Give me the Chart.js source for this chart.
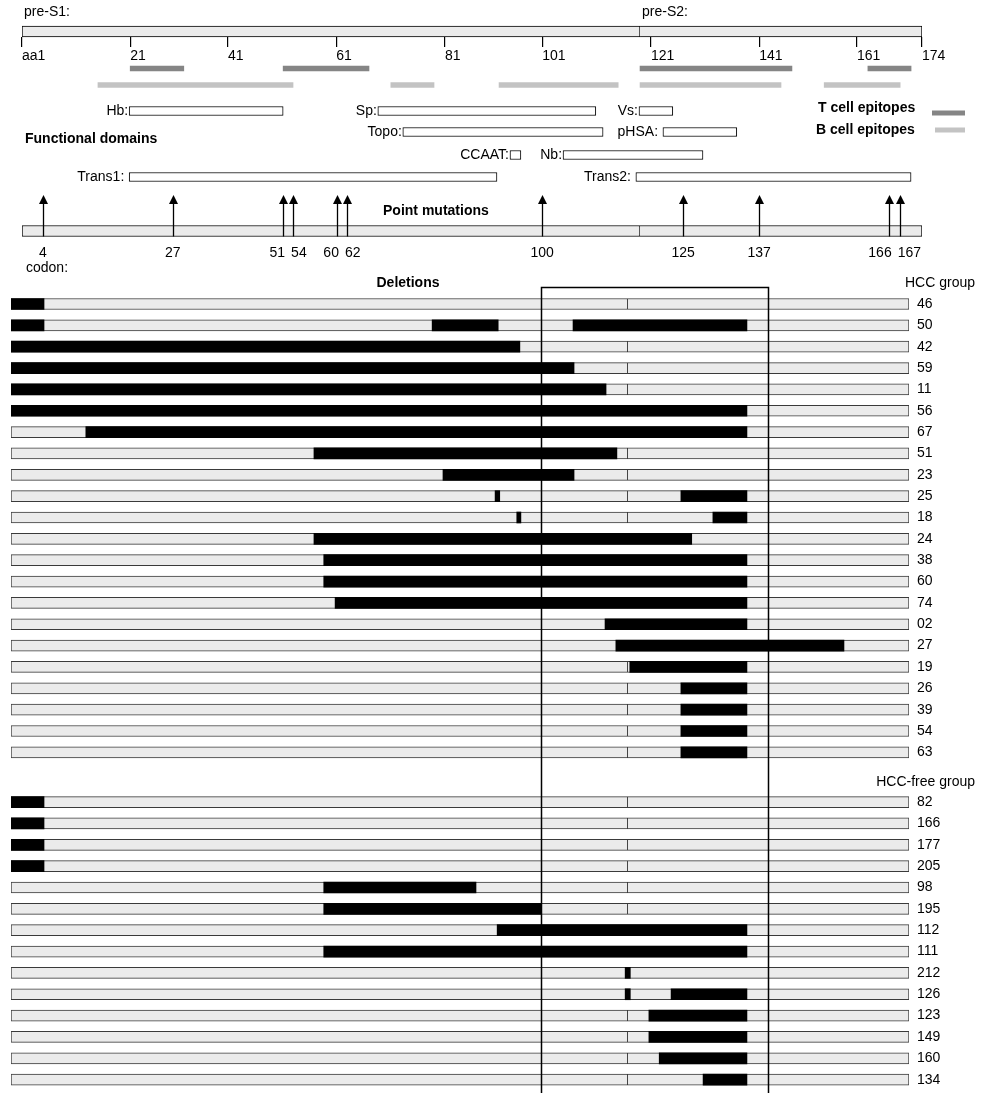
<!DOCTYPE html>
<html>
<head>
<meta charset="utf-8">
<script src="https://cdn.jsdelivr.net/npm/chart.js@4.4.1/dist/chart.umd.min.js"></script>
<style>
  body { margin: 0; background: #fff; }
  canvas { display: block; }
</style>
</head>
<body>
<canvas id="mapChart" width="983" height="276"></canvas>
<canvas id="delChart" width="983" height="817"></canvas>
<script>
/* ===== values (codon positions as drawn) ===== */

// pre-S1 / pre-S2 ruler
const rulerLabels = ['aa1', '21', '41', '61', '81', '101', '121', '141', '161', '174'];
const rulerAt = [1, 21.8, 40.6, 61.4, 82.3, 101, 121.9, 142.7, 161.5, 174];
const preS2Start = 119.8;

// epitopes
const tCellEpitopes = [[21.8, 32.1], [51.2, 67.7], [119.8, 149], [163.6, 171.9]];
const bCellEpitopes = [[15.6, 53.1], [71.9, 80.2], [92.7, 115.6], [119.8, 146.9], [155.2, 169.8]];

// functional domains
const domainNames = ['Hb:', 'Sp:', 'Vs:', 'Topo:', 'pHSA: ', 'CCAAT:', 'Nb:', 'Trans1: ', 'Trans2: '];
const domainRanges = [[21.6, 51.2], [69.4, 111.3], [119.6, 126.1], [74.2, 112.7], [124.2, 138.4],
                      [94.8, 96.9], [105, 131.9], [21.6, 92.3], [119, 171.9]];
const domainRow = [0, 0, 0, 1, 1, 2, 2, 3, 3];

// point mutations
const mutationCodons = ['4', '27', '51', '54', '60', '62', '100', '125', '137', '166', '167'];
const mutationAt = [5, 30, 51.2, 53.1, 61.5, 63.5, 101, 128.1, 142.7, 167.7, 169.8];

// deletions (aa 0..174 along each isolate)
const hccIds = ['46', '50', '42', '59', '11', '56', '67', '51', '23', '25', '18',
                '24', '38', '60', '74', '02', '27', '19', '26', '39', '54', '63'];
const hccDeletions = [
  [[0, 6.4]],
  [[0, 6.4], [81.6, 94.4], [108.9, 142.6]],
  [[0, 98.6]],
  [[0, 109.1]],
  [[0, 115.3]],
  [[0, 142.6]],
  [[14.5, 142.6]],
  [[58.7, 117.4]],
  [[83.7, 109.1]],
  [[93.8, 94.7], [129.8, 142.6]],
  [[98.0, 98.8], [136.0, 142.6]],
  [[58.7, 131.9]],
  [[60.6, 142.6]],
  [[60.6, 142.6]],
  [[62.8, 142.6]],
  [[115.1, 142.6]],
  [[117.2, 161.4]],
  [[119.9, 142.6]],
  [[129.8, 142.6]],
  [[129.8, 142.6]],
  [[129.8, 142.6]],
  [[129.8, 142.6]]
];
const freeIds = ['82', '166', '177', '205', '98', '195', '112', '111', '212', '126', '123', '149', '160', '134'];
const freeDeletions = [
  [[0, 6.4]],
  [[0, 6.4]],
  [[0, 6.4]],
  [[0, 6.4]],
  [[60.6, 90.1]],
  [[60.6, 102.7]],
  [[94.2, 142.6]],
  [[60.6, 142.6]],
  [[119.0, 120.0]],
  [[119.0, 120.0], [127.9, 142.6]],
  [[123.6, 142.6]],
  [[123.6, 142.6]],
  [[125.6, 142.6]],
  [[134.1, 142.6]]
];
const deletionPreS2 = 119.5;
const deletionBox = [102.7, 146.6];

/* ===== layout ===== */
const FONT = 'Arial, "Liberation Sans", sans-serif';
const T_COLOR = '#858585';
const B_COLOR = '#c3c3c3';
const BAR_FILL = '#ebebeb';

// map lanes (y scale runs 0..276 top to bottom)
const lane = {
  regionLabel: 12, ruler: 31.5, rulerAxis: 37,
  tCell: 68.5, bCell: 85,
  domains: [111, 132, 155, 177], domainTitle: 139,
  arrowTip: 195, mutTitle: 211, mutations: 231, mutLabels: 253, codon: 268
};

Chart.defaults.font.family = FONT;
Chart.defaults.font.size = 14;
Chart.defaults.color = '#000';

function text(ctx, s, x, y, align, bold) {
  ctx.font = (bold ? 'bold ' : '') + '14px ' + FONT;
  ctx.textAlign = align || 'left';
  ctx.textBaseline = 'middle';
  ctx.fillStyle = '#000';
  ctx.fillText(s, x, y);
}

const barBase = { grouped: false, borderSkipped: false, type: 'bar' };
const splitBorder = c => c.dataIndex === 1 ? { top: 1, right: 1, bottom: 1, left: 0 } : 1;

/* ===== top map ===== */
const mapPlugin = {
  id: 'mapDecor',
  afterDatasetsDraw(chart) {
    const { ctx, scales: { x, y } } = chart;
    ctx.save();
    text(ctx, 'pre-S1:', x.getPixelForValue(1) + 2, y.getPixelForValue(lane.regionLabel));
    text(ctx, 'pre-S2:', x.getPixelForValue(preS2Start) + 2, y.getPixelForValue(lane.regionLabel));

    domainNames.forEach((n, i) => {
      text(ctx, n, x.getPixelForValue(domainRanges[i][0]) - 1,
           y.getPixelForValue(lane.domains[domainRow[i]]) + 0.5, 'right');
    });
    text(ctx, 'Functional domains', 25, y.getPixelForValue(lane.domainTitle), 'left', true);

    // legend
    text(ctx, 'T cell epitopes', 818, 108, 'left', true);
    ctx.fillStyle = T_COLOR; ctx.fillRect(932, 110.5, 33, 5);
    text(ctx, 'B cell epitopes', 816, 130, 'left', true);
    ctx.fillStyle = B_COLOR; ctx.fillRect(935, 127.5, 30, 5);

    // arrows
    const base = y.getPixelForValue(lane.mutations) + 5.5;
    const tip = y.getPixelForValue(lane.arrowTip);
    ctx.strokeStyle = '#000'; ctx.fillStyle = '#000'; ctx.lineWidth = 1.3;
    mutationAt.forEach(v => {
      const px = Math.round(x.getPixelForValue(v)) + 0.5;
      ctx.beginPath(); ctx.moveTo(px, base); ctx.lineTo(px, tip + 8); ctx.stroke();
      ctx.beginPath(); ctx.moveTo(px, tip); ctx.lineTo(px - 4.5, tip + 9); ctx.lineTo(px + 4.5, tip + 9);
      ctx.closePath(); ctx.fill();
    });
    text(ctx, 'Point mutations', 383, y.getPixelForValue(lane.mutTitle), 'left', true);

    // codon labels, nudged apart where they would collide
    ctx.font = '14px ' + FONT;
    const items = mutationAt.map((v, i) => ({ c: x.getPixelForValue(v), w: ctx.measureText(mutationCodons[i]).width, s: mutationCodons[i] }));
    for (let i = 1; i < items.length; i++) {
      const a = items[i - 1], b = items[i];
      const overlap = (a.c + a.w / 2 + 6) - (b.c - b.w / 2);
      if (overlap > 0) { a.c -= overlap / 2; b.c += overlap / 2; }
    }
    items.forEach(it => text(ctx, it.s, it.c, y.getPixelForValue(lane.mutLabels), 'center'));
    text(ctx, 'codon:', 26, y.getPixelForValue(lane.codon));
    ctx.restore();
  }
};

new Chart(document.getElementById('mapChart'), {
  type: 'bar',
  data: {
    datasets: [
      { ...barBase, label: 'pre-S', order: 1,
        data: [{ x: [1, preS2Start], y: lane.ruler }, { x: [preS2Start, 174], y: lane.ruler }],
        backgroundColor: BAR_FILL, borderColor: '#000', borderWidth: splitBorder, barThickness: 11 },
      { ...barBase, label: 'T cell epitopes', order: 1,
        data: tCellEpitopes.map(r => ({ x: r, y: lane.tCell })),
        backgroundColor: T_COLOR, borderWidth: 0, barThickness: 5 },
      { ...barBase, label: 'B cell epitopes', order: 1,
        data: bCellEpitopes.map(r => ({ x: r, y: lane.bCell })),
        backgroundColor: B_COLOR, borderWidth: 0, barThickness: 5 },
      { ...barBase, label: 'Functional domains', order: 1,
        data: domainRanges.map((r, i) => ({ x: r, y: lane.domains[domainRow[i]] })),
        backgroundColor: '#fff', borderColor: '#000', borderWidth: 1, barThickness: 9 },
      { ...barBase, label: 'Point mutations', order: 1,
        data: [{ x: [1, preS2Start], y: lane.mutations }, { x: [preS2Start, 174], y: lane.mutations }],
        backgroundColor: BAR_FILL, borderColor: '#000', borderWidth: splitBorder, barThickness: 11 }
    ]
  },
  options: {
    indexAxis: 'y',
    responsive: false,
    animation: false,
    events: [],
    layout: { padding: { left: 22, right: 61, top: 0, bottom: 0 } },
    plugins: { legend: { display: false }, tooltip: { enabled: false } },
    scales: {
      x: {
        type: 'linear', min: 1, max: 174,
        position: { y: lane.rulerAxis },
        afterBuildTicks: axis => { axis.ticks = rulerAt.map(v => ({ value: v })); },
        ticks: { autoSkip: false, maxRotation: 0, align: 'start', padding: 1,
                 callback: (v, i) => rulerLabels[i] },
        grid: { drawOnChartArea: false, drawTicks: true, tickLength: 10, color: '#000', lineWidth: 1.2 },
        border: { display: false }
      },
      y: { type: 'linear', min: 0, max: 276, reverse: true, display: false,
           offset: false, grid: { offset: false } }
    }
  },
  plugins: [mapPlugin]
});

/* ===== deletions ===== */
const rowPx = 21.35, firstRowPx = 28, groupGap = 2.33;
const rows = [
  ...hccIds.map((id, i) => ({ id, pos: i, segs: hccDeletions[i] })),
  ...freeIds.map((id, i) => ({ id, pos: hccIds.length - 1 + groupGap + i, segs: freeDeletions[i] }))
];
const delHeight = 817;

const delPlugin = {
  id: 'delDecor',
  afterDatasetsDraw(chart) {
    const { ctx, scales: { x, y } } = chart;
    ctx.save();
    const hccHead = y.getPixelForValue(rows[0].pos - 0.98);
    const freeHead = y.getPixelForValue(rows[hccIds.length].pos - 0.92);
    text(ctx, 'Deletions', 408, hccHead, 'center', true);
    text(ctx, 'HCC group', chart.width - 8, hccHead, 'right');
    text(ctx, 'HCC-free group', chart.width - 8, freeHead, 'right');

    const l = Math.round(x.getPixelForValue(deletionBox[0])) + 0.5;
    const r = Math.round(x.getPixelForValue(deletionBox[1])) + 0.5;
    const top = Math.round(y.getPixelForValue(rows[0].pos - 0.8)) + 0.5;
    ctx.strokeStyle = '#000'; ctx.lineWidth = 1.5;
    ctx.beginPath();
    ctx.moveTo(l, chart.height + 2); ctx.lineTo(l, top); ctx.lineTo(r, top); ctx.lineTo(r, chart.height + 2);
    ctx.stroke();
    ctx.restore();
  }
};

new Chart(document.getElementById('delChart'), {
  type: 'bar',
  data: {
    datasets: [
      { ...barBase, label: 'deleted', order: 0,
        data: rows.flatMap(r => r.segs.map(s => ({ x: s, y: r.pos }))),
        backgroundColor: '#000', borderWidth: 0, barThickness: 11 },
      { ...barBase, label: 'pre-S1', order: 1,
        data: rows.map(r => ({ x: [0, deletionPreS2], y: r.pos })),
        backgroundColor: BAR_FILL, borderColor: '#3a3a3a', borderWidth: 1, barThickness: 11 },
      { ...barBase, label: 'pre-S2', order: 1,
        data: rows.map(r => ({ x: [deletionPreS2, 174], y: r.pos })),
        backgroundColor: BAR_FILL, borderColor: '#3a3a3a',
        borderWidth: { top: 1, right: 1, bottom: 1, left: 0 }, barThickness: 11 }
    ]
  },
  options: {
    indexAxis: 'y',
    responsive: false,
    animation: false,
    events: [],
    layout: { padding: { left: 11, right: 0, top: 0, bottom: 0 } },
    plugins: { legend: { display: false }, tooltip: { enabled: false } },
    scales: {
      x: { type: 'linear', min: 0, max: 174, display: false },
      y: {
        type: 'linear', position: 'right', reverse: true,
        offset: false,
        min: -firstRowPx / rowPx, max: (delHeight - firstRowPx) / rowPx,
        afterBuildTicks: axis => { axis.ticks = rows.map(r => ({ value: r.pos })); },
        afterFit: scale => { scale.width = 74; scale.paddingTop = 0; scale.paddingBottom = 0; },
        ticks: { autoSkip: false, padding: 8, crossAlign: 'near', callback: (v, i) => rows[i].id },
        grid: { display: false, drawTicks: false, offset: false },
        border: { display: false }
      }
    }
  },
  plugins: [delPlugin]
});
</script>
</body>
</html>
